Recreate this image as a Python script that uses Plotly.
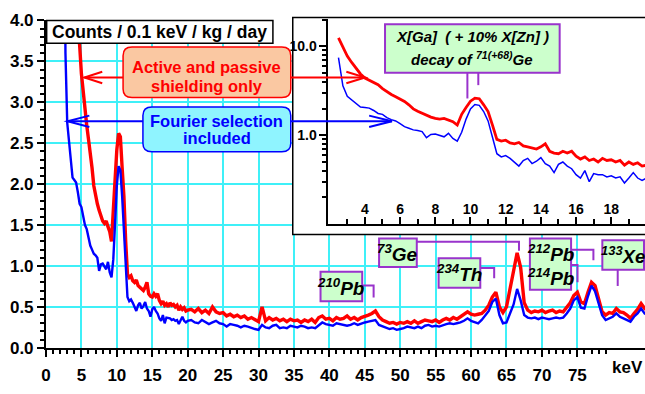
import numpy as np
import plotly.graph_objects as go

W, H = 645, 394

# Energy bins in keV: finer binning below 20 keV, coarser above
energy_low = np.round(np.arange(2.5, 20.001, 0.25), 2)      # 71 bins
energy_high = np.round(np.arange(20.5, 85.001, 0.5), 1)     # 130 bins

# Counts / 0.1 keV / kg / day, active and passive shielding only
shield_low = [
    12.5, 9.8, 7.8, 6.6, 5.6, 4.9, 4.4, 4.15, 3.9, 3.7,
    3.35, 3.1, 2.88, 2.72, 2.55, 2.4, 2.2, 1.98, 1.86, 1.76,
    1.68, 1.60, 1.55, 1.52, 1.55, 1.48, 1.42, 1.30, 1.72, 2.05,
    2.42, 2.62, 2.58, 2.20, 1.85, 1.30, 0.90, 0.86, 0.88, 0.82,
    0.80, 0.83, 0.76, 0.74, 0.72, 0.70, 0.74, 0.80, 0.66, 0.63,
    0.62, 0.66, 0.63, 0.66, 0.58, 0.54, 0.57, 0.52, 0.54, 0.50,
    0.55, 0.52, 0.53, 0.50, 0.52, 0.46, 0.50, 0.47, 0.49, 0.45,
    0.46,
]
shield_high = [
    0.47, 0.44, 0.48, 0.43, 0.46, 0.42, 0.50, 0.44, 0.42, 0.43,
    0.39, 0.41, 0.38, 0.40, 0.37, 0.39, 0.35, 0.37, 0.34, 0.32,
    0.50, 0.33, 0.37, 0.34, 0.36, 0.33, 0.35, 0.32, 0.35, 0.33,
    0.34, 0.31, 0.34, 0.32, 0.35, 0.31, 0.37, 0.39, 0.35, 0.36,
    0.33, 0.37, 0.35, 0.36, 0.39, 0.35, 0.37, 0.34, 0.37, 0.38,
    0.40, 0.42, 0.45, 0.38, 0.34, 0.32, 0.30, 0.31, 0.29, 0.31,
    0.30, 0.32, 0.30, 0.33, 0.30, 0.32, 0.34, 0.33, 0.32, 0.34,
    0.31, 0.34, 0.36, 0.34, 0.37, 0.35, 0.38, 0.40, 0.44, 0.41,
    0.40, 0.41, 0.42, 0.46, 0.52, 0.62, 0.68, 0.50, 0.43, 0.50,
    0.72, 0.90, 1.16, 0.98, 0.55, 0.46, 0.43, 0.45, 0.44, 0.46,
    0.43, 0.45, 0.46, 0.43, 0.45, 0.44, 0.49, 0.55, 0.64, 0.68,
    0.56, 0.54, 0.68, 0.80, 0.76, 0.58, 0.44, 0.40, 0.43, 0.42,
    0.48, 0.44, 0.43, 0.40, 0.36, 0.42, 0.47, 0.54, 0.48, 0.45,
]

# Counts / 0.1 keV / kg / day, with Fourier pulse-shape selection
fourier_low = [
    7.5, 3.6, 2.75, 2.50, 2.25, 2.08, 2.05, 2.02, 1.90, 1.76,
    1.72, 1.58, 1.50, 1.45, 1.35, 1.25, 1.20, 1.15, 1.13, 1.10,
    0.94, 1.02, 1.03, 0.99, 0.96, 1.05, 0.92, 0.86, 1.08, 1.52,
    1.98, 2.22, 2.17, 1.85, 1.45, 0.95, 0.62, 0.57, 0.59, 0.55,
    0.50, 0.45, 0.52, 0.55, 0.48, 0.51, 0.56, 0.48, 0.45, 0.38,
    0.47, 0.50, 0.45, 0.42, 0.36, 0.33, 0.40, 0.30, 0.37, 0.36,
    0.36, 0.34, 0.35, 0.33, 0.34, 0.29, 0.33, 0.38, 0.33, 0.31,
    0.33,
]
fourier_high = [
    0.34, 0.31, 0.30, 0.34, 0.32, 0.29, 0.31, 0.33, 0.30, 0.29,
    0.26, 0.29, 0.28, 0.27, 0.25, 0.27, 0.26, 0.24, 0.23, 0.22,
    0.28, 0.25, 0.24, 0.27, 0.28, 0.24, 0.25, 0.24, 0.27, 0.26,
    0.25, 0.27, 0.26, 0.24, 0.25, 0.24, 0.28, 0.31, 0.29, 0.28,
    0.27, 0.30, 0.29, 0.28, 0.27, 0.28, 0.30, 0.28, 0.30, 0.31,
    0.32, 0.33, 0.34, 0.28, 0.26, 0.24, 0.23, 0.24, 0.22, 0.23,
    0.24, 0.26, 0.25, 0.24, 0.26, 0.24, 0.27, 0.28, 0.26, 0.27,
    0.26, 0.28, 0.29, 0.30, 0.29, 0.30, 0.31, 0.33, 0.36, 0.33,
    0.31, 0.30, 0.34, 0.40, 0.45, 0.56, 0.60, 0.40, 0.30, 0.31,
    0.43, 0.53, 0.72, 0.58, 0.40, 0.37, 0.36, 0.37, 0.35, 0.37,
    0.36, 0.35, 0.36, 0.37, 0.36, 0.37, 0.42, 0.48, 0.58, 0.62,
    0.49, 0.48, 0.63, 0.76, 0.69, 0.53, 0.40, 0.34, 0.36, 0.38,
    0.42, 0.38, 0.36, 0.34, 0.32, 0.38, 0.42, 0.48, 0.42, 0.40,
]

assert len(shield_low) == len(fourier_low) == len(energy_low)
assert len(shield_high) == len(fourier_high) == len(energy_high)

energy = np.concatenate([energy_low, energy_high])
rate_shield = np.array(shield_low + shield_high)
rate_fourier = np.array(fourier_low + fourier_high)

main_ticks = list(range(0, 80, 5))
main_minor = list(range(0, 80))
y_ticks = [i * 0.5 for i in range(9)]
y_minor = [round(i * 0.1, 1) for i in range(41)]
inset_ticks = list(range(4, 20, 2))
inset_minor = list(range(3, 20))
inset_yticks = [0.1, 1, 10]
inset_ylabels = ["0.1", "1.0", "10.0"]
inset_yminor = [m * d for d in (0.1, 1, 10) for m in range(2, 10) if m * d <= 20]

RED = "#ff0000"
BLUE = "#0000ff"
GRID = "#3ff0f8"
PURPLE = "#9933cc"
GREEN = "#ccffcc"
FONT = "Liberation Sans, Arial, sans-serif"


def px(x):
    return x / W


def py(y):
    return 1 - y / H


fig = go.Figure()

# main spectrum
fig.add_trace(go.Scatter(x=energy, y=rate_shield, mode="lines",
                         line=dict(color=RED, width=3.4), xaxis="x", yaxis="y"))
fig.add_trace(go.Scatter(x=energy, y=rate_fourier, mode="lines",
                         line=dict(color=BLUE, width=2.4), xaxis="x", yaxis="y"))
# inset, logarithmic scale
fig.add_trace(go.Scatter(x=energy, y=rate_shield, mode="lines",
                         line=dict(color=RED, width=2.8), xaxis="x3", yaxis="y3"))
fig.add_trace(go.Scatter(x=energy, y=rate_fourier, mode="lines",
                         line=dict(color=BLUE, width=1.5), xaxis="x3", yaxis="y3"))

shapes = []


def box(x0, y0, x1, y1, fill, color, width=1.5):
    shapes.append(dict(type="rect", xref="paper", yref="paper",
                       x0=px(x0), x1=px(x1), y0=py(y1), y1=py(y0),
                       fillcolor=fill, line=dict(color=color, width=width),
                       layer="above"))


def rounded(x0, y0, x1, y1, r, fill, color, width=1.5):
    p = [
        f"M {px(x0 + r)},{py(y0)}",
        f"L {px(x1 - r)},{py(y0)}",
        f"Q {px(x1)},{py(y0)} {px(x1)},{py(y0 + r)}",
        f"L {px(x1)},{py(y1 - r)}",
        f"Q {px(x1)},{py(y1)} {px(x1 - r)},{py(y1)}",
        f"L {px(x0 + r)},{py(y1)}",
        f"Q {px(x0)},{py(y1)} {px(x0)},{py(y1 - r)}",
        f"L {px(x0)},{py(y0 + r)}",
        f"Q {px(x0)},{py(y0)} {px(x0 + r)},{py(y0)} Z",
    ]
    shapes.append(dict(type="path", xref="paper", yref="paper", path=" ".join(p),
                       fillcolor=fill, line=dict(color=color, width=width),
                       layer="above"))


def polyline(points, color, width=2):
    p = "M " + " L ".join(f"{px(x)},{py(y)}" for x, y in points)
    shapes.append(dict(type="path", xref="paper", yref="paper", path=p,
                       fillcolor="rgba(0,0,0,0)", line=dict(color=color, width=width),
                       layer="above"))


def arrow(x_from, x_to, y, color, head=20, spread=6):
    polyline([(x_from, y), (x_to, y)], color)
    d = head if x_to > x_from else -head
    polyline([(x_to - d, y - spread), (x_to, y), (x_to - d, y + spread)], color)


# white panel under the inset (drawn in its own subplot layer, above the main grid)
shapes.append(dict(type="rect", xref="x2", yref="y2", x0=0, x1=1, y0=0, y1=1,
                   fillcolor="white", line=dict(width=0), layer="below"))
box(290, 9, 646, 237, "rgba(0,0,0,0)", "black", 1.5)

# title box
box(42, 12, 270, 36, "white", "black", 1.5)

# legend boxes with arrows
rounded(119, 40, 288, 93, 9, "#fac8a2", RED)
rounded(139, 103, 288, 150, 9, "#8ff4ff", BLUE)
arrow(119, 80, 72, RED, head=18)
arrow(288, 363, 72, RED, head=19)
arrow(139, 63, 118, BLUE, head=22)
arrow(288, 390, 118, BLUE, head=23)

# inset label box and markers
box(383, 16, 559, 67, GREEN, PURPLE, 2)
polyline([(466, 67), (466, 94)], PURPLE)
polyline([(477, 67), (477, 80)], PURPLE)

# peak label boxes
box(318, 276, 360, 307, GREEN, PURPLE, 2)
polyline([(360, 290.5), (371.5, 290.5), (371.5, 303)], PURPLE)
box(377, 241, 415, 271, GREEN, PURPLE, 2)
polyline([(415, 244.5), (518, 244.5), (518, 254)], PURPLE)
box(437, 262, 479, 293, GREEN, PURPLE, 2)
polyline([(479, 272), (493, 272), (493, 283)], PURPLE)
box(529, 241, 570.5, 295, GREEN, PURPLE, 2)
polyline([(570.5, 253), (593, 253), (593, 264)], PURPLE)
polyline([(570.5, 269), (577, 269), (577, 287)], PURPLE)
box(602, 243, 644, 274, GREEN, PURPLE, 2)
polyline([(617.5, 274), (617.5, 291)], PURPLE)

annotations = []


def label(x, y, text, size, color="black", italic=False):
    t = f"<b>{text}</b>"
    if italic:
        t = f"<i>{t}</i>"
    annotations.append(dict(xref="paper", yref="paper", x=px(x), y=py(y), text=t,
                            showarrow=False, xanchor="center", yanchor="middle",
                            font=dict(family=FONT, size=size, color=color)))


label(156, 24.5, "Counts / 0.1 keV / kg / day", 17.5)
label(203.5, 61, "Active and passive", 16.5, RED)
label(203.5, 80.5, "shielding only", 16.5, RED)
label(213.5, 117.5, "Fourier selection", 16.5, BLUE)
label(213.5, 136, "included", 16.5, BLUE)
label(471, 29, "X[Ga]&nbsp;&nbsp;( + 10% X[Zn] )", 15, italic=True)
label(471, 52, "decay of <sup>71(+68)</sup>Ge", 15, italic=True)
label(339, 292, "<sup>210</sup>Pb", 19, italic=True)
label(396, 256, "<sup>73</sup>Ge", 19, italic=True)
label(458, 277.5, "<sup>234</sup>Th", 19, italic=True)
label(550, 256, "<sup>212</sup>Pb", 19, italic=True)
label(550, 282, "<sup>214</sup>Pb", 19, italic=True)
label(622.5, 258.5, "<sup>133</sup>Xe", 18.5, italic=True)
label(627, 377, "keV", 17)

tickfont = dict(family=FONT, size=17, color="black", weight="bold")
insetfont = dict(family=FONT, size=14, color="black", weight="bold")

fig.update_layout(
    width=W, height=H,
    margin=dict(l=0, r=0, t=0, b=0),
    paper_bgcolor="white", plot_bgcolor="white",
    showlegend=False,
    font=dict(family=FONT, color="black"),
    shapes=shapes,
    annotations=annotations,
    xaxis=dict(
        domain=[px(41.3), 1], range=[0, 84.55], anchor="y",
        tickmode="array", tickvals=main_ticks, ticks="outside", ticklen=7,
        tickwidth=2, tickcolor="black", tickfont=tickfont, ticklabelstandoff=4,
        showline=True, linecolor="black", linewidth=2,
        showgrid=True, gridcolor=GRID, gridwidth=1.5, zeroline=False,
        minor=dict(tickmode="array", tickvals=main_minor, ticks="outside",
                   ticklen=4, tickwidth=1.5, tickcolor="black", showgrid=False),
    ),
    yaxis=dict(
        domain=[py(356), py(12)], range=[0, 4.0], anchor="x",
        tickmode="array", tickvals=y_ticks, tickformat=".1f",
        ticks="outside", ticklen=7, tickwidth=2, tickcolor="black",
        tickfont=tickfont,
        showline=True, linecolor="black", linewidth=2,
        showgrid=True, gridcolor=GRID, gridwidth=1.5, zeroline=False,
        minor=dict(tickmode="array", tickvals=y_minor, ticks="outside",
                   ticklen=4, tickwidth=1.5, tickcolor="black", showgrid=False),
    ),
    xaxis2=dict(domain=[px(290), 1], range=[0, 1], anchor="y2", visible=False),
    yaxis2=dict(domain=[py(237), py(9)], range=[0, 1], anchor="x2", visible=False),
    xaxis3=dict(
        domain=[px(326), 1], range=[1.931, 19.917], anchor="y3",
        tickmode="array", tickvals=inset_ticks, ticks="inside",
        ticklabelposition="inside", ticklen=7, tickwidth=2, tickcolor="black",
        tickfont=insetfont,
        showline=True, linecolor="black", linewidth=2,
        showgrid=False, zeroline=False,
        minor=dict(tickmode="array", tickvals=inset_minor, ticks="inside",
                   ticklen=5, tickwidth=1.5, tickcolor="black", showgrid=False),
    ),
    yaxis3=dict(
        domain=[py(226), py(10)], type="log", range=[-1, 1.314], anchor="x3",
        tickmode="array", tickvals=inset_yticks, ticktext=inset_ylabels,
        ticks="outside", ticklen=7, tickwidth=2, tickcolor="black",
        tickfont=insetfont,
        showline=True, linecolor="black", linewidth=2,
        showgrid=False, zeroline=False,
        minor=dict(tickmode="array", tickvals=inset_yminor, ticks="outside",
                   ticklen=4, tickwidth=1.5, tickcolor="black", showgrid=False),
    ),
)

fig.write_html("out.html")
